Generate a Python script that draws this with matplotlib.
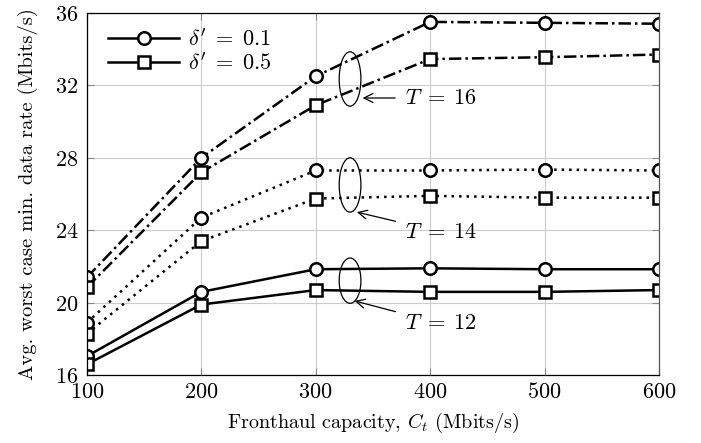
import matplotlib
matplotlib.use("Agg")
import matplotlib.pyplot as plt
from matplotlib.patches import Ellipse

plt.rcParams["font.family"] = "serif"
plt.rcParams["font.serif"] = ["cmr10"]
plt.rcParams["mathtext.fontset"] = "cm"
plt.rcParams["axes.formatter.use_mathtext"] = True

# fronthaul capacity (Mbits/s)
capacity = [100, 200, 300, 400, 500, 600]

# avg worst case min data rate, per T and delta'
t16_d01 = [21.4, 28.0, 32.5, 35.5, 35.45, 35.4]
t16_d05 = [20.85, 27.2, 30.9, 33.45, 33.55, 33.7]
t14_d01 = [18.9, 24.7, 27.3, 27.3, 27.35, 27.3]
t14_d05 = [18.3, 23.4, 25.75, 25.9, 25.8, 25.8]
t12_d01 = [17.05, 20.6, 21.85, 21.9, 21.85, 21.85]
t12_d05 = [16.6, 19.9, 20.7, 20.6, 20.6, 20.7]

xticks = [100, 200, 300, 400, 500, 600]
yticks = [16, 20, 24, 28, 32, 36]

fig = plt.figure(figsize=(7.01, 4.43), dpi=100)
ax = fig.add_axes([0.124, 0.153, 0.816, 0.818])

dashdot = (0, (5, 1.6, 1, 1.6))
dotted = (0, (1, 2))
mk = dict(markersize=9, markerfacecolor="white", markeredgecolor="black",
          markeredgewidth=1.8, color="black", linewidth=1.8)

ax.plot(capacity, t16_d01, marker="o", linestyle=dashdot, **mk)
ax.plot(capacity, t16_d05, marker="s", linestyle=dashdot, **mk)
ax.plot(capacity, t14_d01, marker="o", linestyle=dotted, **mk)
ax.plot(capacity, t14_d05, marker="s", linestyle=dotted, **mk)
ax.plot(capacity, t12_d01, marker="o", linestyle="-", **mk)
ax.plot(capacity, t12_d05, marker="s", linestyle="-", **mk)

# legend proxies
ax.plot([], [], marker="o", linestyle="-", label=r"$\delta' \;=\; 0.1$", **mk)
ax.plot([], [], marker="s", linestyle="-", label=r"$\delta' \;=\; 0.5$", **mk)
handles, labels = ax.get_legend_handles_labels()
ax.legend(handles, labels, loc="upper left", frameon=False, fontsize=16,
          handlelength=3.2, borderaxespad=0.3, labelspacing=0.1,
          handletextpad=0.4, bbox_to_anchor=(0.01, 1.0))

# group ellipses and arrows
for yc, h in [(32.35, 3.0), (26.5, 3.0), (21.22, 2.5)]:
    ax.add_patch(Ellipse((330, yc), 19, h, fill=False, edgecolor="black",
                         linewidth=0.9, zorder=5))

arrow = dict(arrowstyle="->", color="black", lw=0.9, shrinkA=5, shrinkB=0)
ax.annotate(r"$T \;=\; 16$", xy=(341, 31.3), xytext=(378, 31.3), fontsize=16,
            va="center", ha="left", arrowprops=arrow)
ax.annotate(r"$T \;=\; 14$", xy=(336, 25.0), xytext=(378, 23.9), fontsize=16,
            va="center", ha="left", arrowprops=arrow)
ax.annotate(r"$T \;=\; 12$", xy=(334, 20.1), xytext=(378, 18.85), fontsize=16,
            va="center", ha="left", arrowprops=arrow)

ax.set_xlim(100, 600)
ax.set_ylim(16, 36)
ax.set_xticks(xticks)
ax.set_yticks(yticks)
ax.tick_params(direction="in", top=True, right=True, length=5, width=0.8,
               color="#888888", labelsize=16)
ax.tick_params(axis="x", pad=5)
ax.tick_params(axis="y", pad=6)
ax.grid(True, color="#cccccc", linewidth=0.8)
ax.set_axisbelow(True)
for s in ax.spines.values():
    s.set_linewidth(0.9)
ax.spines["right"].set_color("#555555")

ax.set_xlabel(r"Fronthaul capacity, $C_t$ (Mbits/s)", fontsize=14.5, labelpad=6)
ax.set_ylabel("Avg. worst case min. data rate (Mbits/s)", fontsize=14.8,
              labelpad=12)

fig.savefig("out.png", dpi=100)
